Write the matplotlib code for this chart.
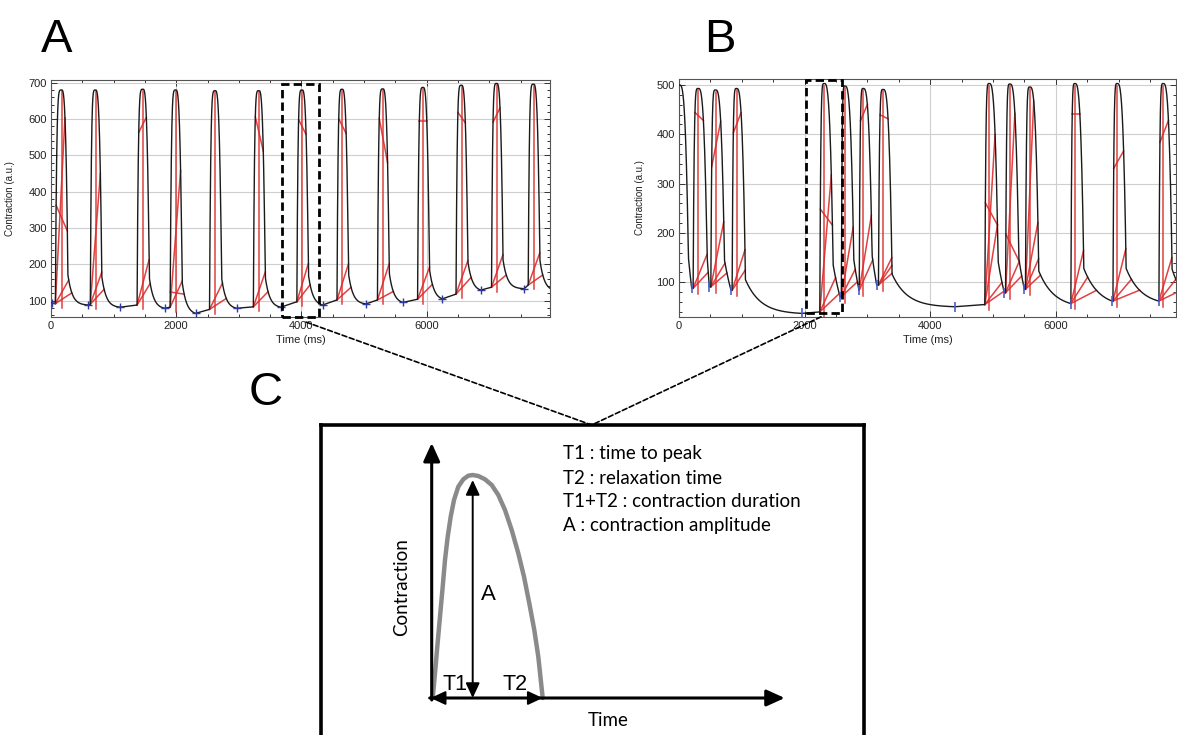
import numpy as np
import matplotlib
matplotlib.use("Agg")
import matplotlib.pyplot as plt
from matplotlib.patches import Rectangle, ConnectionPatch
from matplotlib.ticker import MultipleLocator

# ---------------- data : panel A (time in ms, contraction in a.u.) ----------------
A_onset_t = [70, 628, 1375, 1903, 2532, 3232, 3927, 4568, 5214, 5855, 6469, 7036, 7622]
A_onset_v = [92, 90, 88, 82, 76, 83, 97, 102, 102, 104, 118, 137, 143]
A_peak_t = [170, 712, 1470, 1995, 2625, 3322, 4012, 4652, 5302, 5945, 6558, 7120, 7708]
A_peak_v = [680, 680, 682, 680, 678, 678, 680, 682, 683, 687, 693, 698, 696]
A_min_t = [598, 1106, 1816, 2308, 2965, 3670, 4338, 5032, 5620, 6250, 6864, 7559, 7970]
A_min_v = [88, 82, 79, 65, 79, 82, 88, 91, 95, 105, 129, 133, 134]
A_start = (0, 94)
A_cross_t = [11, 598, 1106, 1816, 2308, 2965, 3670, 4338, 5032, 5620, 6250, 6864, 7559]
A_cross_v = [93, 88, 82, 79, 65, 79, 82, 88, 91, 95, 105, 129, 133]
A_fan = [[0.11, 0.05, 0.87], [0.15, 0.07, 0.61], [0.21, 0.10], [0.12, 0.63], [0.12, 0.05],
         [0.16, 0.07], [0.18, 0.08], [0.17, 0.06], [0.17, 0.04], [0.15, 0.07],
         [0.16, 0.08], [0.16, 0.06], [0.16, 0.05]]
A_top_rise = [0.46, np.nan, 0.80, 0.07, np.nan, 0.88, 0.86, 0.86, 0.86, 0.84, 0.87, 0.81, np.nan]
A_top_fall = [0.34, np.nan, 0.87, 0.06, np.nan, 0.72, 0.79, 0.79, 0.65, 0.84, 0.82, 0.88, np.nan]
A_box_t = (3690, 4280)
A_box_v = (55, 696)

# ---------------- data : panel B ----------------
B_onset_t = [-65, 225, 507, 846, 2242, 2585, 2870, 3176, 4870, 5200, 5517, 6240, 6910, 7642]
B_onset_v = [90, 88, 91, 84, 40, 71, 84, 94.5, 55, 79, 86, 57, 62, 62]
B_peak_t = [10, 308, 584, 918, 2314, 2643, 2935, 3253, 4941, 5271, 5589, 6306, 6980, 7712]
B_peak_v = [500, 493, 490, 493, 503, 498, 493, 491, 503, 502, 496, 503, 503, 503]
B_min_t = [202, 483, 828, 1954, 2564, 2866, 3148, 4395, 5180, 5499, 6237, 6895, 7638, 8150]
B_min_v = [88, 91, 84, 37, 71, 84, 94.5, 50.5, 79, 86, 57, 62, 62, 60]
B_start = (-65, 90)
B_tick_t = [202, 483, 828, 1954, 2564, 2866, 3148, 4395, 5180, 5499, 6237, 6895, 7638]
B_tick_v = [88, 91, 84, 37, 71, 84, 94.5, 50.5, 79, 86, 57, 62, 62]
B_fan = [[], [0.17, 0.08], [0.33, 0.12, 0.07], [0.20, 0.10], [0.60, 0.15, 0.08],
         [0.33, 0.13, 0.07], [0.37, 0.15], [0.14, 0.10, 0.06], [0.77, 0.36, 0.10, 0.06],
         [0.86, 0.15, 0.08], [0.93, 0.33, 0.15, 0.07], [0.24, 0.12, 0.06],
         [0.24, 0.10, 0.05], [0.20, 0.10, 0.05]]
B_top_rise = [np.nan, 0.88, 0.61, 0.78, 0.45, np.nan, 0.84, 0.87, 0.46, 0.28, np.nan, 0.86, 0.61, 0.73]
B_top_fall = [np.nan, 0.84, 0.84, 0.88, 0.38, np.nan, 0.92, 0.85, 0.36, 0.15, np.nan, 0.86, 0.69, 0.83]
B_box_t = (2022, 2596)
B_box_v = (38.5, 511)

# ---------------- data : panel C schematic ----------------
C_curve_t = [1.0, 3.3, 5.6, 8.3, 11.0, 13.3, 16.0, 19.0, 22.3, 26.6, 31.6, 36.6, 41.0, 46.6,
             53.3, 60, 66.6, 73.3, 80, 86.6, 92.3, 97.6, 102.6, 106.6, 111]
C_curve_y = [0, 24.7, 51.3, 81.3, 111.3, 138, 161.3, 181.3, 198, 211.3, 218.7, 222.3, 223, 222,
             218.7, 213, 203, 188, 168, 144.7, 121.3, 94.7, 68, 41.3, 0]
C_T1 = 41
C_T2_end = 111
C_A = 218
C_legend = ["T1 : time to peak", "T2 : relaxation time",
            "T1+T2 : contraction duration", "A : contraction amplitude"]

W, H = 1177, 735
fig = plt.figure(figsize=(W / 100, H / 100), dpi=100)
fig.patch.set_facecolor("white")


def px_axes(x0, y0, x1, y1):
    return fig.add_axes([x0 / W, 1 - y1 / H, (x1 - x0) / W, (y1 - y0) / H])


def build_trace(on_t, on_v, pk_t, pk_v, mn_t, mn_v, start, d_fall, knee_frac, tau):
    T, Y, segs = [start[0]], [start[1]], []
    for i in range(len(on_t)):
        u = np.linspace(0, 1, 41)
        rt = on_t[i] + u * (pk_t[i] - on_t[i])
        ry = on_v[i] + (pk_v[i] - on_v[i]) * (1 - (1 - u) ** 5)
        tk = min(pk_t[i] + d_fall, mn_t[i] - 5)
        yk = mn_v[i] + knee_frac * (pk_v[i] - mn_v[i])
        ft = pk_t[i] + u[1:] * (tk - pk_t[i])
        fy = pk_v[i] - (pk_v[i] - yk) * u[1:] ** 3
        S = mn_t[i] - tk
        s = np.linspace(0, S, 80)[1:]
        e = np.exp(-S / tau)
        ty = mn_v[i] + (yk - mn_v[i]) * (np.exp(-s / tau) - e) / (1 - e)
        tt = tk + s
        T.extend(rt); Y.extend(ry); T.extend(ft); Y.extend(fy); T.extend(tt); Y.extend(ty)
        segs.append((rt, ry, np.concatenate([ft, tt]), np.concatenate([fy, ty])))
    return np.array(T), np.array(Y), segs


RED = "#dd2c2c"


def annotate_beats(ax, segs, on_t, on_v, pk_t, pk_v, fans, top_r, top_f, first):
    kw = dict(color=RED, lw=1.1, alpha=0.9, zorder=3)
    for i in range(first, len(on_t)):
        rt, ry, ft, fy = segs[i]
        amp = pk_v[i] - on_v[i]
        ax.plot([pk_t[i], pk_t[i]], [on_v[i] - 12, pk_v[i] - 4], **kw)
        for f in fans[i]:
            lev = on_v[i] + f * amp
            tf = np.interp(lev, fy[::-1], ft[::-1])
            ax.plot([on_t[i], tf], [on_v[i], lev], **kw)
        if not np.isnan(top_r[i]):
            lr = on_v[i] + top_r[i] * amp
            lf = on_v[i] + top_f[i] * amp
            tr = np.interp(lr, ry, rt)
            tf = np.interp(lf, fy[::-1], ft[::-1])
            ax.plot([tr, tf], [lr, lf], **kw)


def style_axes(ax, ymaj, yminor):
    ax.set_facecolor("white")
    ax.xaxis.set_major_locator(MultipleLocator(2000))
    ax.xaxis.set_minor_locator(MultipleLocator(500))
    ax.yaxis.set_major_locator(MultipleLocator(ymaj))
    ax.yaxis.set_minor_locator(MultipleLocator(yminor))
    ax.tick_params(which="both", direction="in", top=True, right=True, width=0.7,
                   labelsize=8, pad=3, colors="#333333", labelcolor="#222222")
    ax.tick_params(which="major", length=4)
    ax.tick_params(which="minor", length=2.3)
    for sp in ax.spines.values():
        sp.set_color("#555555")
        sp.set_linewidth(0.8)
    ax.grid(True, which="major", color="#cfcfcf", lw=0.8, zorder=0)
    ax.set_axisbelow(True)
    for lab in ax.get_xticklabels() + ax.get_yticklabels():
        lab.set_fontfamily("Liberation Sans")
    ax.set_xlabel("Time (ms)", fontsize=8, family="Liberation Sans", color="#222222")
    ax.set_ylabel("Contraction (a.u.)", fontsize=7, family="Liberation Sans", color="#222222")


# ---------------- panel A ----------------
axA = px_axes(51, 79.8, 550, 317)
TA, YA, segA = build_trace(A_onset_t, A_onset_v, A_peak_t, A_peak_v, A_min_t, A_min_v,
                           A_start, 100, 0.14, 70)
axA.plot(TA, YA, color="#1a1a1a", lw=1.0, zorder=4)
annotate_beats(axA, segA, A_onset_t, A_onset_v, A_peak_t, A_peak_v, A_fan, A_top_rise, A_top_fall, 0)
axA.plot(A_cross_t, A_cross_v, ls="none", marker="+", ms=6, mew=1.0, color="#2b3a9c", zorder=5)
axA.set_xlim(0, 7970)
axA.set_ylim(55, 708)
style_axes(axA, 100, 20)
axA.yaxis.set_label_coords(-0.072, 0.5)
axA.xaxis.set_label_coords(0.5, -0.097)
axA.xaxis.label.set_va("center")

# ---------------- panel B ----------------
axB = px_axes(679, 79.3, 1176, 316.7)
TB, YB, segB = build_trace(B_onset_t, B_onset_v, B_peak_t, B_peak_v, B_min_t, B_min_v,
                           B_start, 140, 0.15, 240)
axB.plot(TB, YB, color="#1a1a1a", lw=1.0, zorder=4)
annotate_beats(axB, segB, B_onset_t, B_onset_v, B_peak_t, B_peak_v, B_fan, B_top_rise, B_top_fall, 1)
axB.plot(B_tick_t, B_tick_v, ls="none", marker="|", ms=7, mew=1.2, color="#4a5fd0", zorder=5)
axB.set_xlim(0, 7914)
axB.set_ylim(30.3, 511.6)
style_axes(axB, 100, 20)
axB.yaxis.set_label_coords(-0.068, 0.5)
axB.xaxis.set_label_coords(0.5, -0.097)
axB.xaxis.label.set_va("center")

# dashed selection boxes
for ax, bt, bv in [(axA, A_box_t, A_box_v), (axB, B_box_t, B_box_v)]:
    ax.add_patch(Rectangle((bt[0], bv[0]), bt[1] - bt[0], bv[1] - bv[0], fill=False,
                           ec="black", lw=2.0, ls=(0, (3, 1.5)), clip_on=False, zorder=6))

# ---------------- panel C ----------------
axC = px_axes(321, 425, 864, 745)
axC.set_xlim(-110.7, 432.3)
axC.set_ylim(-47, 273)
axC.set_xticks([]); axC.set_yticks([])
for sp in axC.spines.values():
    sp.set_linewidth(2.6)
    sp.set_color("black")

axC.plot(C_curve_t, C_curve_y, color="#8a8a8a", lw=3.2, solid_joinstyle="round",
         solid_capstyle="round", zorder=2)

big = dict(arrowstyle="-|>,head_length=0.55,head_width=0.25", lw=2.2, color="black",
           shrinkA=0, shrinkB=0, mutation_scale=20)
axC.annotate("", xy=(0, 255), xytext=(0, -2), arrowprops=big, zorder=3)
axC.annotate("", xy=(353, 0), xytext=(-2, 0), arrowprops=big, zorder=3)
both = dict(arrowstyle="<|-|>,head_length=0.6,head_width=0.28", lw=1.4, color="black",
            shrinkA=0, shrinkB=0, mutation_scale=15)
one = dict(arrowstyle="-|>,head_length=0.6,head_width=0.28", lw=1.4, color="black",
           shrinkA=0, shrinkB=0, mutation_scale=15)
axC.annotate("", xy=(C_T1, C_A), xytext=(C_T1, 0), arrowprops=both, zorder=4)
axC.annotate("", xy=(-1, 0), xytext=(C_T1, 0), arrowprops=one, zorder=4)
axC.annotate("", xy=(C_T2_end, 0), xytext=(C_T1, 0), arrowprops=one, zorder=4)

axC.text(56.6, 103, "A", fontsize=16, family="Liberation Sans", ha="center", va="center")
axC.text(23.3, 13, "T1", fontsize=15.5, family="Liberation Sans", ha="center", va="center")
axC.text(83.3, 13, "T2", fontsize=15.5, family="Liberation Sans", ha="center", va="center")
axC.text(-30, 111, "Contraction", fontsize=13.5, family="Lato", rotation=90,
         ha="center", va="center")
axC.text(176.6, -22, "Time", fontsize=13.5, family="Lato", ha="center", va="center")
for line, yy in zip(C_legend, [244.7, 219.7, 196.3, 173]):
    axC.text(131, yy, line, fontsize=13.5, family="Lato", ha="left", va="center")

# connector dashed lines from the selected beats to panel C
for ax, xy in [(axA, (4073, 41)), (axB, (2261, 30))]:
    con = ConnectionPatch(xyA=xy, coordsA=ax.transData, xyB=(160, 273), coordsB=axC.transData,
                          ls=(0, (3, 1.6)), lw=1.2, color="black", zorder=10)
    fig.add_artist(con)

# panel letters
for lab, (x, y) in zip(["A", "B", "C"], [(57, 40), (720, 40), (266, 393)]):
    fig.text(x / W, 1 - y / H, lab, fontsize=34, family="Liberation Sans",
             ha="center", va="center")

fig.savefig("out.png", dpi=100, facecolor="white")
